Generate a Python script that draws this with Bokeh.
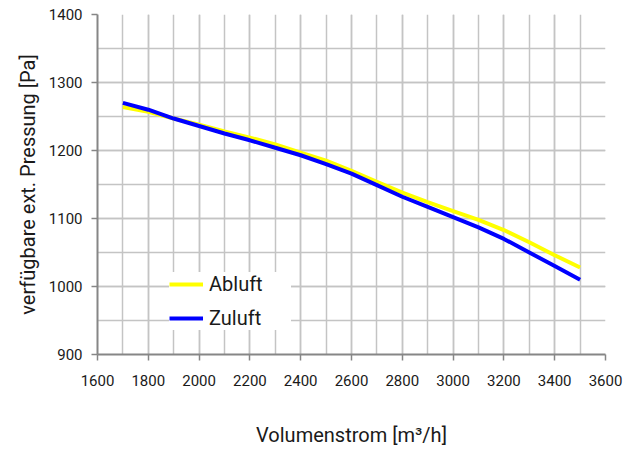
from bokeh.plotting import figure
from bokeh.models import Range1d, SingleIntervalTicker, Legend, LegendItem, ColumnDataSource
from bokeh.embed import file_html
from bokeh.resources import INLINE

volumenstrom = [1700, 1800, 1900, 2000, 2100, 2200, 2300, 2400, 2500, 2600,
                2700, 2800, 2900, 3000, 3100, 3200, 3300, 3400, 3500]
abluft = [1264, 1257, 1247, 1238, 1228, 1219, 1209, 1197, 1185, 1170,
          1154, 1138, 1124, 1111, 1098, 1083, 1065, 1046, 1028]
zuluft = [1270, 1260, 1247, 1236, 1225, 1215, 1204, 1193, 1180, 1166,
          1149, 1132, 1117, 1102, 1087, 1070, 1050, 1030, 1010]
series_names = ["Abluft", "Zuluft"]
x_label = "Volumenstrom [m³/h]"
y_label = "verfügbare ext. Pressung [Pa]"

FONT = "Roboto"

p = figure(width=641, height=452, output_backend="svg", toolbar_location=None,
           x_range=Range1d(1600, 3600), y_range=Range1d(900, 1400),
           min_border_left=97, min_border_right=36, min_border_top=14, min_border_bottom=98)
p.outline_line_color = None
p.background_fill_color = "white"
p.border_fill_color = "white"

p.xaxis.ticker = SingleIntervalTicker(interval=200, num_minor_ticks=2)
p.yaxis.ticker = SingleIntervalTicker(interval=100, num_minor_ticks=2)

for ax in (p.xaxis[0], p.yaxis[0]):
    ax.axis_line_color = "#868686"
    ax.axis_line_width = 2
    ax.major_tick_line_color = "#868686"
    ax.major_tick_line_width = 1.5
    ax.major_tick_out = 6
    ax.major_tick_in = 0
    ax.minor_tick_out = 0
    ax.minor_tick_in = 0
    ax.major_label_text_font = FONT
    ax.major_label_text_font_size = "15px"
    ax.major_label_text_color = "#1a1a1a"
    ax.axis_label_text_font = FONT
    ax.axis_label_text_font_size = "20px"
    ax.axis_label_text_font_style = "normal"
    ax.axis_label_text_color = "#1a1a1a"

p.xaxis.axis_label = x_label
p.yaxis.axis_label = y_label
p.xaxis.major_label_standoff = 14
p.xaxis.axis_label_standoff = 34
p.yaxis.major_label_standoff = 9
p.yaxis.axis_label_standoff = 6

for g in (p.xgrid[0], p.ygrid[0]):
    g.grid_line_color = "#c4c4c4"
    g.grid_line_width = 1.5
    g.minor_grid_line_color = "#c4c4c4"
    g.minor_grid_line_width = 1.5

src = ColumnDataSource(dict(x=volumenstrom, ab=abluft, zu=zuluft))
r_ab = p.line("x", "ab", source=src, line_color="#ffff00", line_width=4)
r_zu = p.line("x", "zu", source=src, line_color="#0000ff", line_width=4)

legend = Legend(items=[LegendItem(label=series_names[0], renderers=[r_ab]),
                       LegendItem(label=series_names[1], renderers=[r_zu])],
                location=(72, 24), orientation="vertical",
                background_fill_color="white", background_fill_alpha=1.0,
                border_line_color=None, padding=6, spacing=10,
                label_height=24, glyph_height=24, glyph_width=34,
                label_width=82, label_standoff=6,
                label_text_font=FONT, label_text_font_size="20px",
                label_text_color="#1a1a1a", margin=0)
p.add_layout(legend, "center")

open("out.html", "w").write(file_html(p, INLINE))
